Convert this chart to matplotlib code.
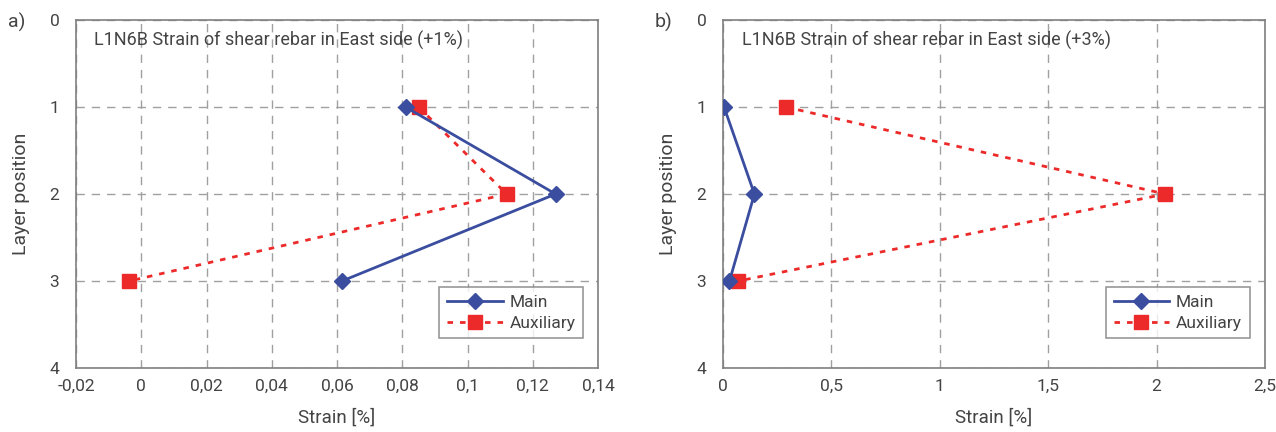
import matplotlib.pyplot as plt
from matplotlib.ticker import FuncFormatter

plt.rcParams['font.family'] = ['Roboto', 'DejaVu Sans']

# Layer positions
layers = [1, 2, 3]

# Panel a) +1% drift
main_a = [0.081, 0.127, 0.0615]
aux_a = [0.085, 0.112, -0.0037]

# Panel b) +3% drift
main_b = [0.005, 0.145, 0.03]
aux_b = [0.29, 2.04, 0.07]

xticks_a = [-0.02, 0, 0.02, 0.04, 0.06, 0.08, 0.1, 0.12, 0.14]
xticks_b = [0, 0.5, 1, 1.5, 2, 2.5]
yticks = [0, 1, 2, 3, 4]

blue = '#3a4d9f'
red = '#ec2a2a'
gray = '#7f7f7f'
text_col = '#444444'


def comma(v, pos):
    s = ('%g' % v).replace('.', ',')
    return s


fig = plt.figure(figsize=(12.76, 4.32), dpi=100)
ax_a = fig.add_axes([0.0596, 0.148, 0.4091, 0.8057])
ax_b = fig.add_axes([0.5666, 0.148, 0.4248, 0.8057])

panels = [
    (ax_a, main_a, aux_a, xticks_a, (-0.02, 0.14), 'L1N6B Strain of shear rebar in East side (+1%)', 'a)'),
    (ax_b, main_b, aux_b, xticks_b, (0, 2.5), 'L1N6B Strain of shear rebar in East side (+3%)', 'b)'),
]

for ax, main, aux, xt, xl, title, tag in panels:
    ax.plot(main, layers, color=blue, lw=2, marker='D', ms=8, label='Main', zorder=4)
    ax.plot(aux, layers, color=red, lw=2, ls=(0, (2, 2.5)), marker='s', ms=10,
            label='Auxiliary', zorder=3)
    ax.set_xlim(*xl)
    ax.set_ylim(4, 0)
    ax.set_xticks(xt)
    ax.set_yticks(yticks)
    ax.xaxis.set_major_formatter(FuncFormatter(comma))
    ax.grid(True, color='#a0a0a0', ls=(0, (6, 5)), lw=1)
    ax.set_axisbelow(True)
    ax.tick_params(axis='x', length=0, labelsize=12.5, colors=text_col, pad=8)
    ax.tick_params(axis='y', length=0, labelsize=12.5, colors=text_col, pad=12)
    for sp in ax.spines.values():
        sp.set_color(gray)
        sp.set_linewidth(1.2)
    ax.set_xlabel('Strain [%]', fontsize=13.5, color=text_col, labelpad=10)
    ax.set_ylabel('Layer position', fontsize=14, color=text_col, labelpad=14)
    ax.text(0.035, 0.925, title, transform=ax.transAxes, fontsize=13, color=text_col)
    leg = ax.legend(loc='lower right', bbox_to_anchor=(0.972, 0.085), fancybox=False,
                    edgecolor=gray, fontsize=12.5, handlelength=3.2, borderpad=0.45,
                    labelspacing=0.3, handletextpad=0.4, borderaxespad=0)
    for t in leg.get_texts():
        t.set_color(text_col)
    leg.get_frame().set_linewidth(1.2)

fig.text(8 / 1276, 1 - 22 / 432, 'a)', fontsize=14, color=text_col, va='center')
fig.text(655 / 1276, 1 - 22 / 432, 'b)', fontsize=14, color=text_col, va='center')

plt.savefig('out.png', dpi=100)
